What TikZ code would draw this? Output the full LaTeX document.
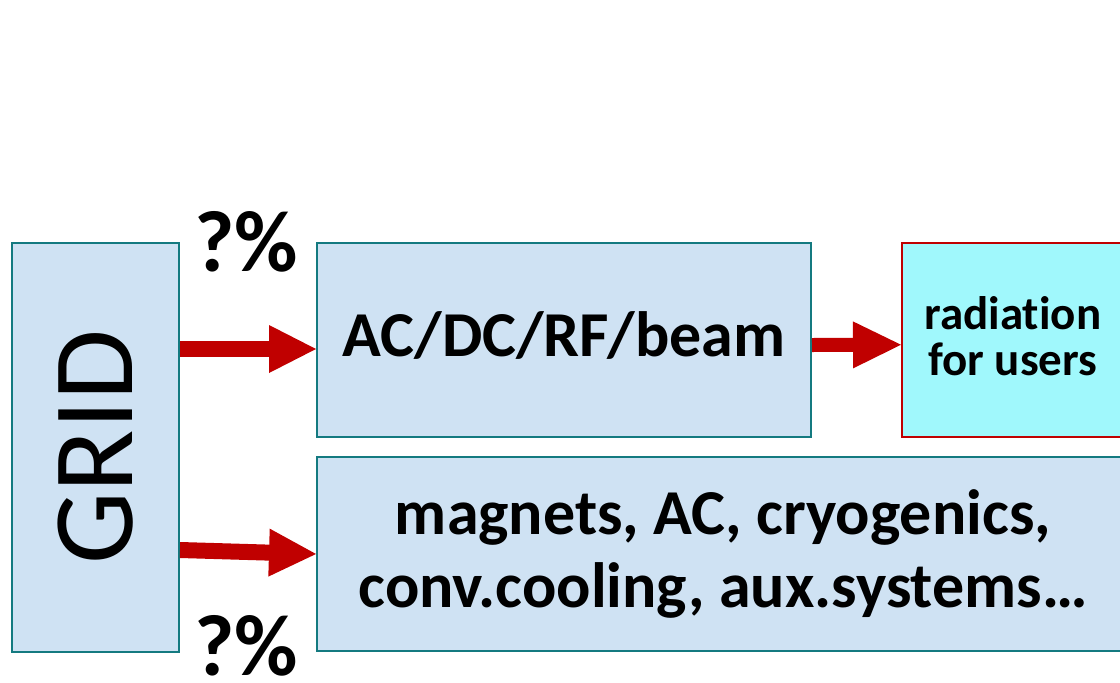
\documentclass[tikz,border=0pt]{standalone}
\usepackage{fontspec}
\setmainfont{Carlito}[Ligatures=NoCommon]
\usetikzlibrary{arrows.meta}
\definecolor{boxfill}{RGB}{207,226,243}
\definecolor{tealline}{RGB}{20,122,128}
\definecolor{radfill}{RGB}{160,248,252}
\definecolor{darkred}{RGB}{192,0,0}
\tikzset{
  bluebox/.style={draw=tealline, line width=2pt, fill=boxfill, inner sep=0pt, align=center},
  radbox/.style={draw=darkred, line width=1.5pt, fill=radfill, inner sep=0pt, align=center},
  flow/.style={draw=darkred, line width=16pt, -{Triangle[length=47pt 0 0, width=48pt 0 0, line width=0pt 0 0]}},
  flowsmall/.style={draw=darkred, line width=14pt, -{Triangle[length=48pt 0 0, width=47pt 0 0, line width=0pt 0 0]}},
  pct/.style={font=\fontsize{87}{87}\selectfont\bfseries, inner sep=0pt}
}
\begin{document}
\begin{tikzpicture}[x=1pt,y=-1pt]
\useasboundingbox (0,0) rectangle (1120,683);
\clip (0,0) rectangle (1120,683);
\node[bluebox, anchor=north west, minimum width=167pt, minimum height=409pt,
      font=\fontsize{115}{115}\selectfont] (grid) at (11,242) {\rotatebox{90}{GRID}};
\node[bluebox, anchor=north west, minimum width=494pt, minimum height=194pt,
      font=\fontsize{64}{70}\selectfont\bfseries] (ac) at (316,242) {AC/DC/RF/beam\rule[-12pt]{0pt}{12pt}};
\node[bluebox, anchor=north west, minimum width=812pt, minimum height=194pt,
      font=\fontsize{64}{73}\selectfont\bfseries] (bot) at (316,456) {magnets, AC, cryogenics,\\conv.cooling, aux.systems…};
\node[radbox, anchor=north west, minimum width=222pt, minimum height=194pt,
      font=\fontsize{47}{46}\selectfont\bfseries] (rad) at (901,242) {radiation\\for users\rule[-8pt]{0pt}{8pt}};
\node[pct, anchor=base] (q1) at (246,271) {?\%};
\node[pct, anchor=base] (q2) at (246,675) {?\%};
\draw[flow] ([yshift=98.5pt]grid.east) -- ([yshift=-9pt]ac.west);
\draw[flow] ([yshift=-102.5pt]grid.east) -- (bot.west);
\draw[flowsmall] ([yshift=-5pt]ac.east) -- ([yshift=-5pt]rad.west);
\end{tikzpicture}
\end{document}
